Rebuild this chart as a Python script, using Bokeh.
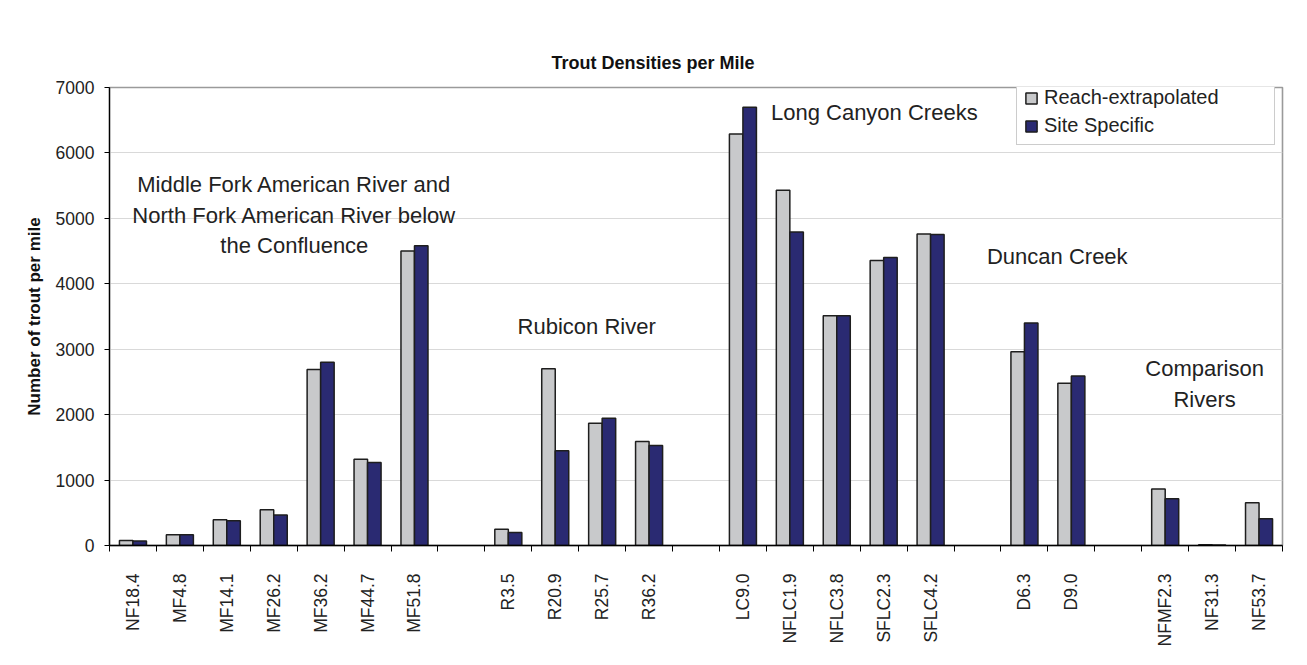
from bokeh.plotting import figure
from bokeh.models import (Range1d, FixedTicker, Legend, LegendItem, Label,
                          ColumnDataSource)
from bokeh.embed import file_html
from bokeh.resources import INLINE
import math

# ---- data ----
group_names = ["Middle Fork American River and\nNorth Fork American River below\nthe Confluence",
               "Rubicon River", "Long Canyon Creeks", "Duncan Creek", "Comparison\nRivers"]
sites_mf = ["NF18.4", "MF4.8", "MF14.1", "MF26.2", "MF36.2", "MF44.7", "MF51.8"]
reach_mf = [75, 165, 395, 545, 2690, 1320, 4500]
site_mf = [70, 165, 380, 465, 2800, 1270, 4580]
sites_r = ["R3.5", "R20.9", "R25.7", "R36.2"]
reach_r = [250, 2700, 1870, 1590]
site_r = [200, 1450, 1945, 1530]
sites_lc = ["LC9.0", "NFLC1.9", "NFLC3.8", "SFLC2.3", "SFLC4.2"]
reach_lc = [6290, 5430, 3510, 4355, 4760]
site_lc = [6700, 4790, 3510, 4400, 4755]
sites_d = ["D6.3", "D9.0"]
reach_d = [2960, 2480]
site_d = [3400, 2590]
sites_c = ["NFMF2.3", "NF31.3", "NF53.7"]
reach_c = [865, 10, 655]
site_c = [715, 8, 410]
y_ticks = [0, 1000, 2000, 3000, 4000, 5000, 6000, 7000]

groups = [(sites_mf, reach_mf, site_mf), (sites_r, reach_r, site_r),
          (sites_lc, reach_lc, site_lc), (sites_d, reach_d, site_d),
          (sites_c, reach_c, site_c)]

# slot positions: one empty slot between groups
names, reach, site, centers = [], [], [], []
slot = 0
for gi, (s, r, t) in enumerate(groups):
    if gi > 0:
        slot += 1
    for k in range(len(s)):
        names.append(s[k]); reach.append(r[k]); site.append(t[k])
        centers.append(slot + 0.5)
        slot += 1
n_slots = slot
Y_MAX = 7000

bw = 0.288
src = ColumnDataSource(dict(
    xr=[c - bw / 2 for c in centers], xs=[c + bw / 2 for c in centers],
    reach=reach, site=site))

FONT = "Liberation Sans"
W, H = 1291, 649
BL, BR, BT, BB = 109, 9, 87, 101
p = figure(width=W, height=H, output_backend="svg", toolbar_location=None,
           x_range=Range1d(0, n_slots), y_range=Range1d(0, Y_MAX),
           min_border_left=BL, min_border_right=BR, min_border_top=BT,
           min_border_bottom=BB, background_fill_color="white",
           border_fill_color="white")

p.title.text = "Trout Densities per Mile"
p.title.text_font = FONT
p.title.text_font_size = "18px"
p.title.text_font_style = "bold"
p.title.text_color = "#111111"
p.title.align = "left"
p.title.offset = 442
p.title.standoff = 29

p.outline_line_color = "#9a9a9a"
p.outline_line_width = 1.6

r1 = p.vbar(x="xr", top="reach", width=bw, source=src, fill_color="#c8c9cb",
            line_color="#1e1e1e", line_width=1.5)
r2 = p.vbar(x="xs", top="site", width=bw, source=src, fill_color="#2a2a72",
            line_color="#1e1e1e", line_width=1.5)

# axes
p.xgrid.visible = False
p.ygrid.grid_line_color = "#d9d9d9"
p.ygrid.grid_line_width = 1.2

ya = p.yaxis[0]
ya.ticker = FixedTicker(ticks=y_ticks)
ya.axis_line_color = "black"
ya.axis_line_width = 1.3
ya.major_tick_in = 0
ya.major_tick_out = 5
ya.major_tick_line_color = "black"
ya.minor_tick_line_color = None
ya.major_label_standoff = 10
ya.major_label_text_font = FONT
ya.major_label_text_font_size = "17.5px"
ya.major_label_text_color = "#222222"
ya.axis_label = "Number of trout per mile"
ya.axis_label_text_font = FONT
ya.axis_label_text_font_size = "17px"
ya.axis_label_text_font_style = "bold"
ya.axis_label_text_color = "#111111"
ya.axis_label_standoff = 9

xa = p.xaxis[0]
xa.ticker = FixedTicker(ticks=centers, minor_ticks=list(range(0, n_slots + 1)))
xa.major_label_overrides = {c: nm for c, nm in zip(centers, names)}
xa.major_label_orientation = math.pi / 2
xa.axis_line_color = "black"
xa.axis_line_width = 1.3
xa.major_tick_line_color = None
xa.major_tick_in = 0
xa.major_tick_out = 0
xa.minor_tick_in = 0
xa.minor_tick_out = 6
xa.minor_tick_line_color = "black"
xa.major_label_standoff = 22
xa.major_label_text_font = FONT
xa.major_label_text_font_size = "17.5px"
xa.major_label_text_color = "#222222"

# group annotations
ann_x = [3.94, 10.17, 16.3, 20.2, 23.34]
ann_y = [5049, 3353, 6617, 4415, 2472]
for txt, ax, ay in zip(group_names, ann_x, ann_y):
    p.add_layout(Label(x=ax, y=ay, text=txt, text_align="center", text_baseline="middle",
                       text_font=FONT, text_font_size="22px", text_color="#222222",
                       text_line_height=1.23))

legend = Legend(items=[LegendItem(label="Reach-extrapolated", renderers=[r1]),
                       LegendItem(label="Site Specific", renderers=[r2])],
                location=(907, 400), orientation="vertical",
                border_line_color="#9a9a9a", border_line_width=1.3,
                background_fill_color="white", background_fill_alpha=1,
                label_text_font=FONT, label_text_font_size="20px",
                label_text_color="#222222", glyph_width=14, glyph_height=14,
                label_standoff=6, label_width=223, label_height=20,
                spacing=5, padding=7, margin=0)
p.add_layout(legend)

open("out.html", "w").write(file_html(p, INLINE))
